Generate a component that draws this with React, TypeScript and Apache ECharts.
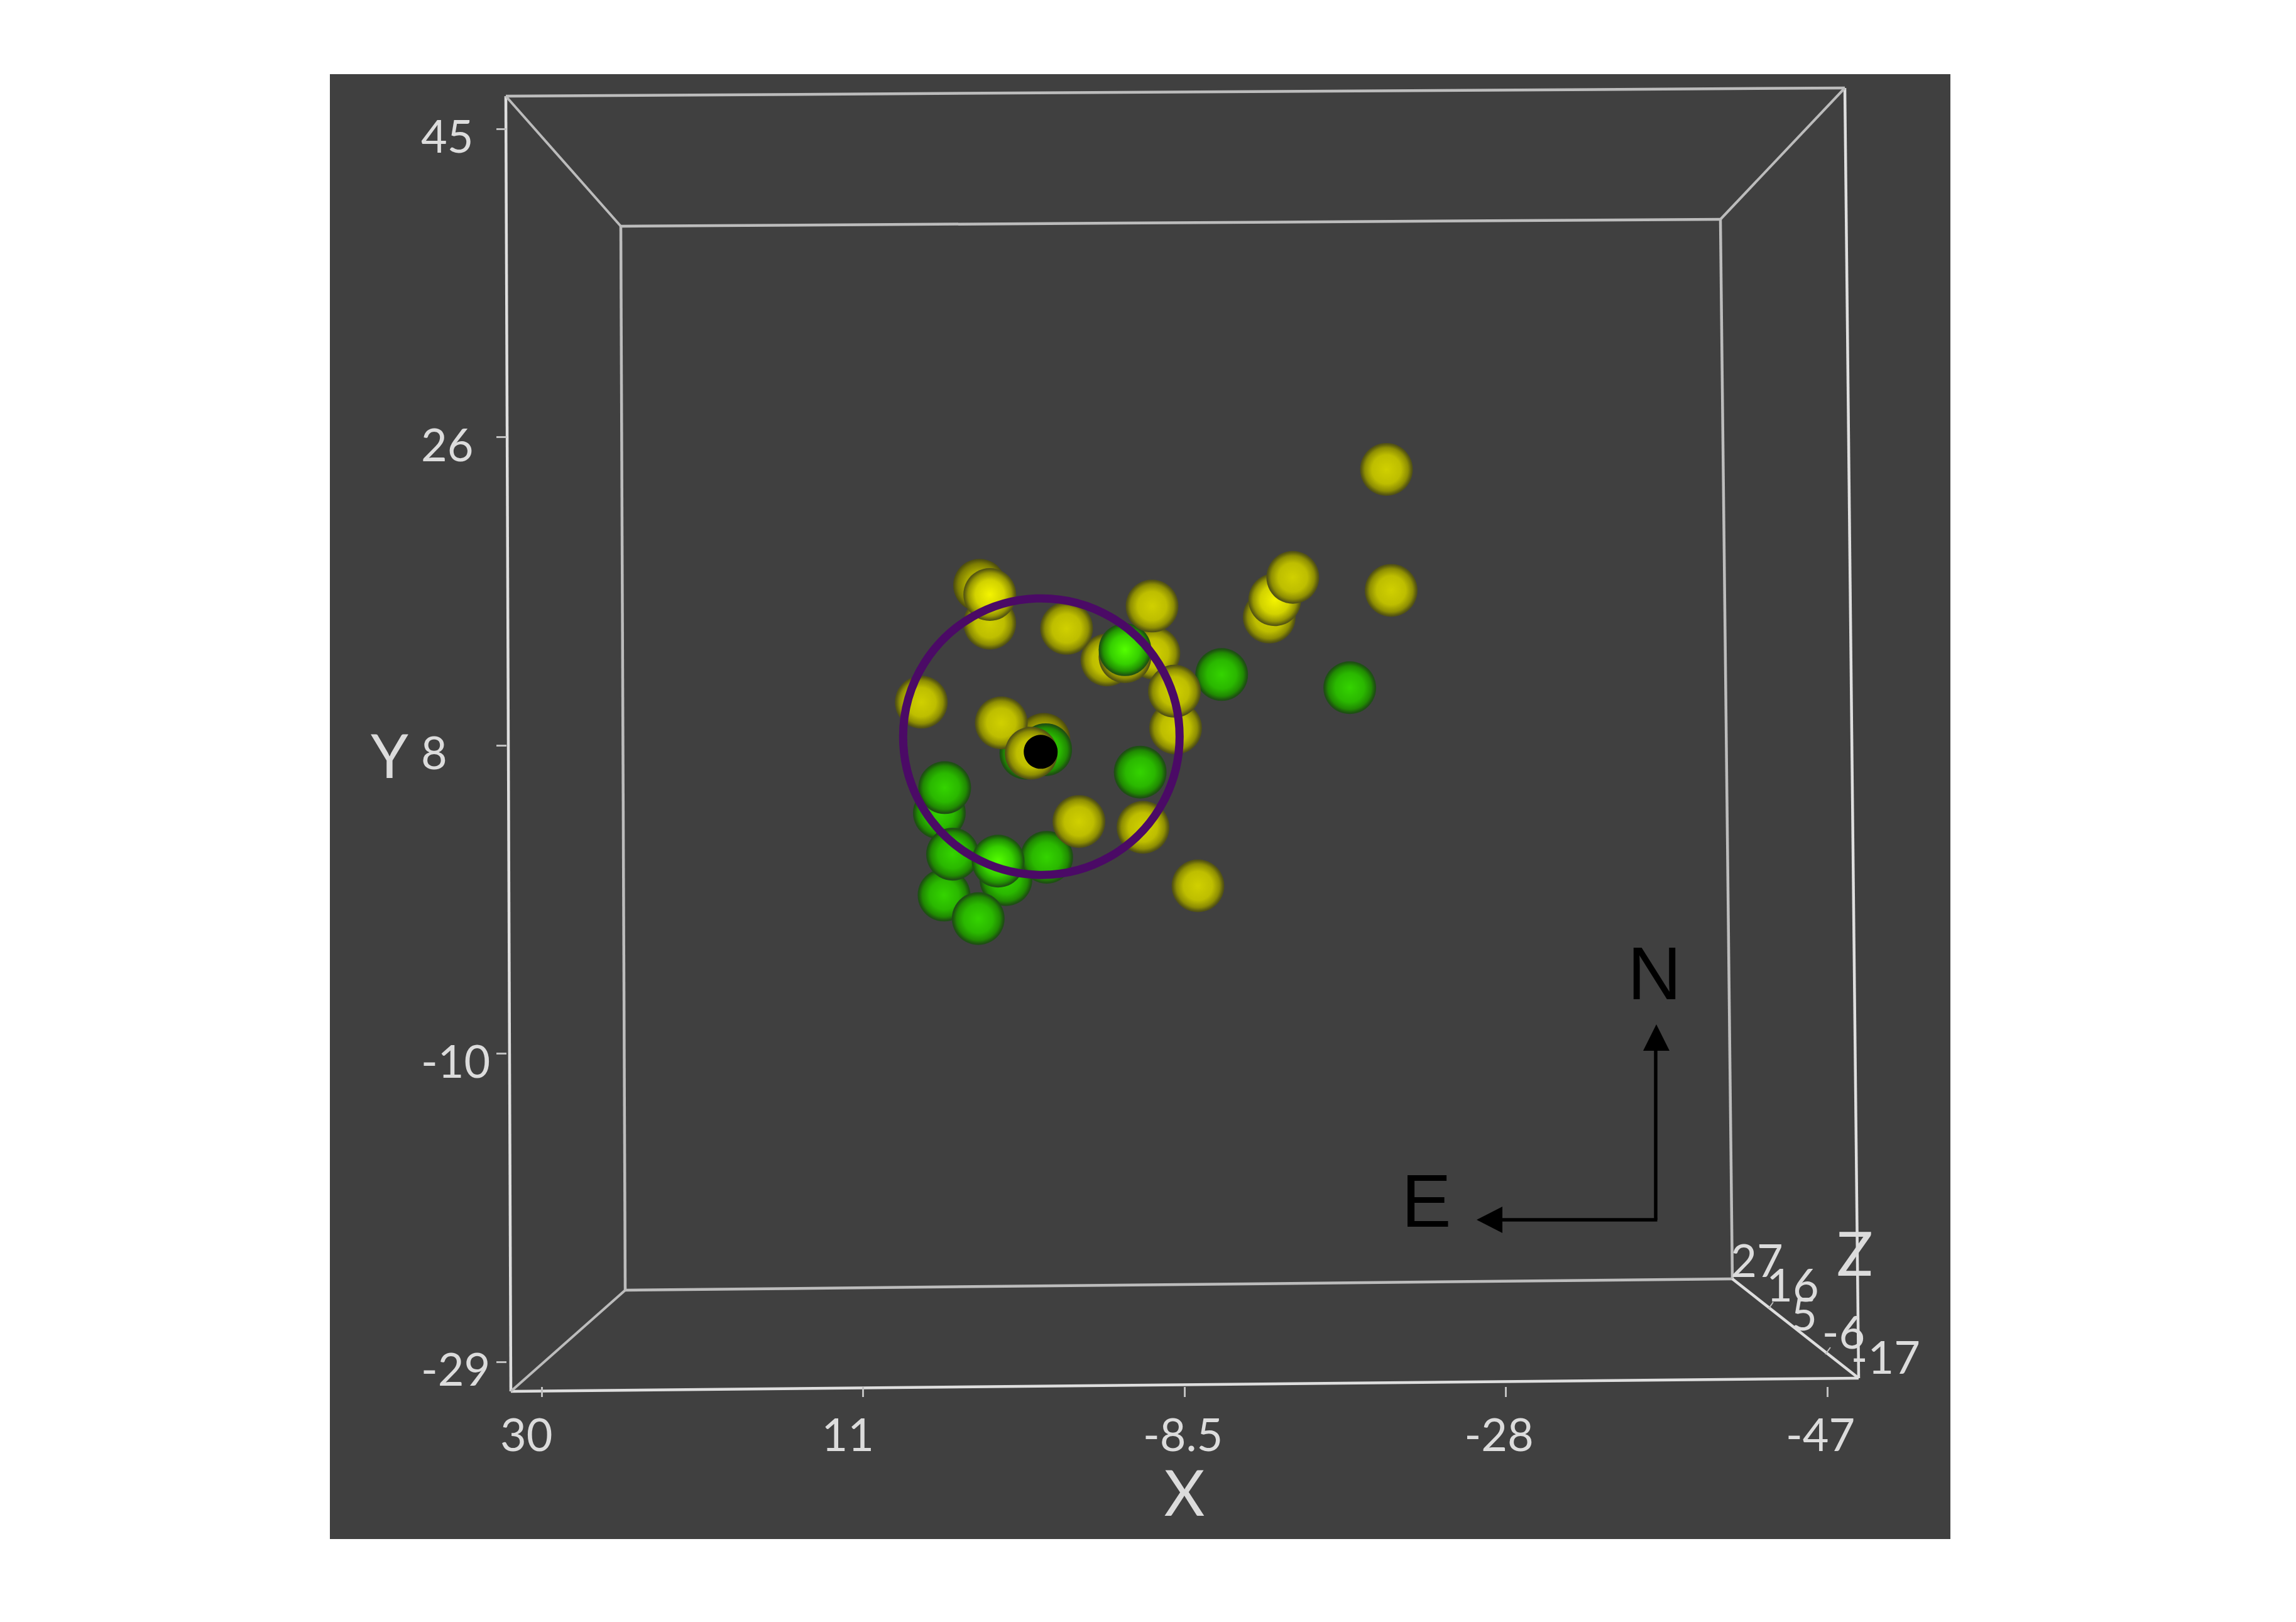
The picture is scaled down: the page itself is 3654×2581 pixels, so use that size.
import React, { useEffect, useRef } from "react";
import * as echarts from "echarts";

const xTickValues = [30, 10.75, -8.5, -27.75, -47];
const xTickLabels = ["30", "11", "-8.5", "-28", "-47"];
const yTickValues = [45, 26.5, 8, -10.5, -29];
const yTickLabels = ["45", "26", "8", "-10", "-29"];
const zTickLabels = ["27", "16", "5", "-6", "-17"];

// [x, y, brightness level] 0 = dim, 1 = normal, 2 = bright
const yellowBack = [
  [3.77, 17.61, 0], [3.16, 15.33, 1], [-3.86, 13.12, 1], [-6.67, 13.53, 1],
  [-4.94, 13.32, 1], [-7.97, 9.04, 1], [-0.08, 8.36, 0],
];
const greenPoints = [
  [6.18, 3.95, 1], [2.19, -0.06, 1], [5.9, -0.99, 1], [5.39, 1.47, 1], [3.85, -2.4, 1],
  [5.86, 5.46, 1], [-0.25, 1.28, 1], [2.66, 1.05, 2], [-10.73, 12.25, 1], [-18.4, 11.46, 1],
  [-5.85, 6.39, 1], [-0.19, 7.74, 1], [1.0, 7.53, 1], [-4.94, 13.74, 2],
];
const yellowFront = [
  [-20.6, 24.56, 1], [-20.88, 17.3, 1], [-13.58, 15.7, 1], [-13.91, 16.74, 2], [-14.99, 18.08, 1],
  [-6.56, 16.36, 1], [3.16, 17.05, 2], [-1.44, 15.02, 1], [-7.9, 11.25, 1], [7.26, 10.59, 1],
  [2.47, 9.35, 1], [0.68, 7.53, 1], [-2.18, 3.43, 1], [-6.02, 3.08, 1], [-9.31, -0.43, 1],
];
const ringCentre = [[0.07, 8.52]];
const blackPoint = [[0.11, 7.61]];

const PAL: Record<string, string[][]> = {
  yellow: [
    ["#b4b400", "#a6a600", "#7c7c02", "#56560c", "#4a4a14"],
    ["#d0d000", "#bebe00", "#8e8e02", "#5a5a10", "#4e4e18"],
    ["#f4f400", "#d2d200", "#969602", "#5e5e0e", "#505016"],
  ],
  green: [
    ["#28b000", "#24a000", "#1c7a04", "#1c500e", "#1c4a14"],
    ["#34d400", "#2ab800", "#208a02", "#1e5410", "#1e4c18"],
    ["#54ff00", "#36d000", "#229402", "#1e5a0e", "#1e5016"],
  ],
};
const sphere = (hue: string, level: number) => {
  const c = PAL[hue][level];
  return new echarts.graphic.RadialGradient(0.5, 0.5, 0.5, [
    { offset: 0, color: c[0] },
    { offset: 0.55, color: c[1] },
    { offset: 0.82, color: c[2] },
    { offset: 0.95, color: c[3] },
    { offset: 1, color: c[4] },
  ]);
};
const sphereSeries = (name: string, hue: string, pts: number[][]) => ({
  type: "scatter",
  name,
  symbol: "circle",
  symbolSize: 84,
  silent: true,
  data: pts.map((p) => ({ value: [p[0], p[1]], itemStyle: { color: sphere(hue, p[2]), opacity: 1 } })),
});

const LABEL_FONT = "Lato";
const LABEL_COLOR = "#dcdcdc";
const line = (x1: number, y1: number, x2: number, y2: number, stroke: string, lineWidth: number) => ({
  type: "line",
  silent: true,
  shape: { x1, y1, x2, y2 },
  style: { stroke, lineWidth },
});
const label = (text: string, x: number, y: number, size: number) => ({
  type: "text",
  silent: true,
  x,
  y,
  style: {
    text,
    fill: LABEL_COLOR,
    font: `400 ${size}px ${LABEL_FONT}`,
    textAlign: "center",
    textVerticalAlign: "middle",
  },
});
const black = (text: string, x: number, y: number) => ({
  type: "text",
  silent: true,
  x,
  y,
  style: {
    text,
    fill: "#000000",
    font: '119px "Liberation Sans"',
    textAlign: "center",
    textVerticalAlign: "middle",
  },
});

export default function App() {
  const ref = useRef<HTMLDivElement>(null);
  useEffect(() => {
    const chart = echarts.init(ref.current!, undefined, { renderer: "svg" });
    const B = "#dedede";
    const D = "#bcbcbc";
    chart.setOption({
      animation: false,
      backgroundColor: "#ffffff",
      grid: { left: 862, top: 205, width: 2046, height: 1962, containLabel: false },
      xAxis: {
        type: "value",
        inverse: true,
        min: -47,
        max: 30,
        interval: 19.25,
        offset: 40,
        name: "X",
        nameLocation: "middle",
        nameGap: 116,
        nameTextStyle: { color: LABEL_COLOR, fontFamily: LABEL_FONT, fontSize: 100 },
        axisLine: { show: false, onZero: false },
        axisTick: { show: true, length: 16, lineStyle: { color: "#c0c0c0", width: 3 } },
        splitLine: { show: false },
        axisLabel: {
          show: true,
          hideOverlap: false,
          color: LABEL_COLOR,
          fontFamily: LABEL_FONT,
          fontSize: 72,
          margin: 38,
          align: "left",
          padding: [0, 0, 0, -66],
          formatter: (v: number) => xTickLabels[xTickValues.indexOf(v)] ?? "",
        },
      },
      yAxis: {
        type: "value",
        min: -29,
        max: 45,
        interval: 18.5,
        offset: 56,
        name: "Y",
        nameLocation: "middle",
        nameRotate: 0,
        nameGap: 156,
        nameTextStyle: {
          color: LABEL_COLOR,
          fontFamily: LABEL_FONT,
          fontSize: 96,
          verticalAlign: "top",
          lineHeight: 28,
        },
        axisLine: { show: false, onZero: false },
        axisTick: { show: true, length: 16, lineStyle: { color: "#c0c0c0", width: 3 } },
        splitLine: { show: false },
        axisLabel: {
          show: true,
          hideOverlap: false,
          color: LABEL_COLOR,
          fontFamily: LABEL_FONT,
          fontSize: 72,
          margin: 136,
          align: "left",
          verticalAlign: "top",
          lineHeight: 20,
          formatter: (v: number) => yTickLabels[yTickValues.indexOf(v)] ?? "",
        },
      },
      series: [
        sphereSeries("yellow-back", "yellow", yellowBack),
        sphereSeries("green", "green", greenPoints),
        sphereSeries("yellow-front", "yellow", yellowFront),
        {
          type: "scatter",
          name: "ring",
          symbol: "circle",
          symbolSize: 440,
          silent: true,
          itemStyle: { color: "rgba(0,0,0,0)", borderColor: "#4b0a66", borderWidth: 13, opacity: 1 },
          data: ringCentre,
        },
        {
          type: "scatter",
          name: "centre",
          symbol: "circle",
          symbolSize: 54,
          silent: true,
          itemStyle: { color: "#000000", opacity: 1 },
          data: blackPoint,
        },
      ],
      graphic: [
        { type: "rect", silent: true, z: -10, shape: { x: 525, y: 118, width: 2579, height: 2331 }, style: { fill: "#404040" } },
        // front face
        line(805, 153, 2936, 140, D, 4.5),
        line(805, 153, 813, 2214, B, 4.5),
        line(813, 2214, 2958, 2193, B, 4.5),
        line(2936, 140, 2958, 2193, B, 4.5),
        // back face
        line(988, 360, 2738, 349, D, 4.5),
        line(988, 360, 995, 2053, D, 4.5),
        line(995, 2053, 2757, 2035, D, 4.5),
        line(2738, 349, 2757, 2035, D, 4.5),
        // connecting edges
        line(805, 153, 988, 360, D, 4),
        line(2936, 140, 2738, 349, D, 4),
        line(813, 2214, 995, 2053, D, 4),
        line(2958, 2193, 2757, 2035, B, 4.5),
        // z ticks
        line(2815, 2082, 2822, 2072, D, 2),
        line(2905, 2155, 2913, 2144, D, 2),
        // z labels
        label(zTickLabels[0], 2796, 2004, 72),
        label(zTickLabels[1], 2853, 2043, 72),
        label(zTickLabels[2], 2871, 2089, 72),
        label(zTickLabels[3], 2934, 2118, 72),
        label(zTickLabels[4], 3001, 2158, 72),
        label("Z", 2952, 1992, 96),
        // compass
        line(2635, 1941, 2635, 1670, "#000000", 5.5),
        line(2637.5, 1941, 2385, 1941, "#000000", 5.5),
        { type: "polygon", silent: true, shape: { points: [[2636, 1630], [2615, 1672], [2657, 1672]] }, style: { fill: "#000000" } },
        { type: "polygon", silent: true, shape: { points: [[2350, 1941], [2391, 1920], [2391, 1962]] }, style: { fill: "#000000" } },
        black("N", 2633, 1548),
        black("E", 2270, 1910),
      ],
    });
    return () => chart.dispose();
  }, []);
  return <div ref={ref} style={{ position: "fixed", left: 0, top: 0, width: 3654, height: 2581 }} />;
}
